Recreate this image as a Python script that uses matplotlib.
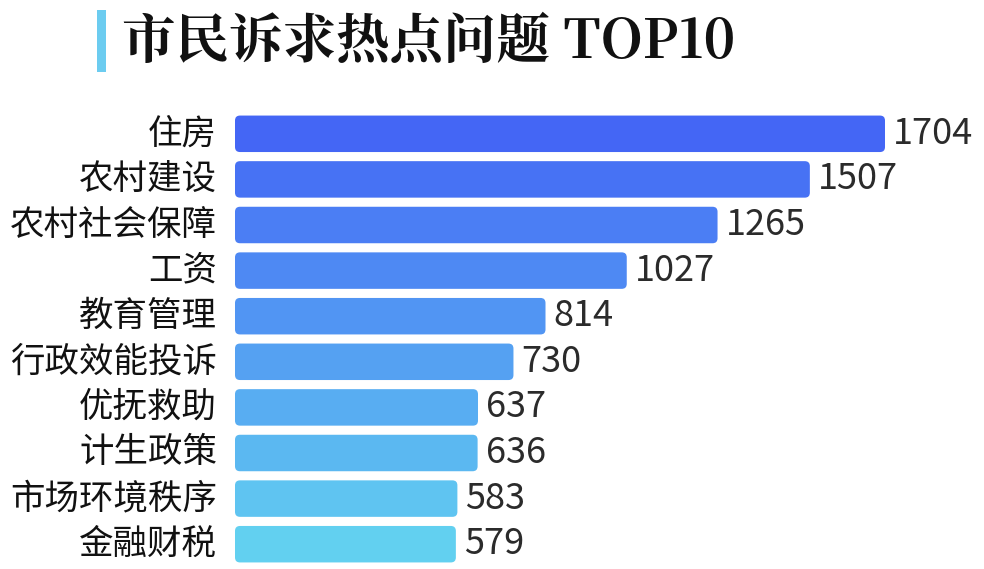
import matplotlib
matplotlib.use('Agg')
import matplotlib.pyplot as plt
from matplotlib.patches import FancyBboxPatch, Rectangle
import numpy as np

plt.rcParams['font.family'] = ['Noto Sans CJK SC', 'DejaVu Sans']

categories = ['住房', '农村建设', '农村社会保障', '工资', '教育管理',
              '行政效能投诉', '优抚救助', '计生政策', '市场环境秩序', '金融财税']
values = [1704, 1507, 1265, 1027, 814, 730, 637, 636, 583, 579]

c_top = np.array([0x44, 0x66, 0xF5]) / 255
c_bot = np.array([0x62, 0xD0, 0xF0]) / 255
colors = [c_top + (c_bot - c_top) * i / (len(values) - 1) for i in range(len(values))]

fig = plt.figure(figsize=(9.84, 5.69), dpi=100)
ax = fig.add_axes([235 / 984, 2 / 569, 749 / 984, 456 / 569])
xmax = 1704 * 749 / 650
ax.set_xlim(0, xmax)
ax.set_ylim(9.5, -0.5)
ax.axis('off')

xpp = xmax / 749
ypp = 1 / 45.6
h = 0.8
for i, (v, c) in enumerate(zip(values, colors)):
    p = FancyBboxPatch((0, i - h / 2), v, h,
                       boxstyle='round,pad=0,rounding_size=%f' % (5 * xpp),
                       mutation_aspect=ypp / xpp, fc=c, ec='none')
    ax.add_patch(p)
    ax.text(v + 8 * xpp, i, str(v), va='center', ha='left', fontsize=26, color='#2b2b2b')
    ax.text(-18 * xpp, i, categories[i], va='center', ha='right', fontsize=24.8,
            color='#111111', clip_on=False)

fig.patches.append(Rectangle((97 / 984, 1 - 72 / 569), 9 / 984, 62 / 569,
                             transform=fig.transFigure, fc='#6CCCF0', ec='none'))
fig.text(122 / 984, 1 - 42 / 569, '市民诉求热点问题 TOP10', fontsize=38.5,
         fontweight='bold', va='center', ha='left', color='#111111',
         family=['Noto Serif CJK SC', 'Noto Sans CJK SC', 'DejaVu Serif'])

fig.savefig('out.png', dpi=100)
